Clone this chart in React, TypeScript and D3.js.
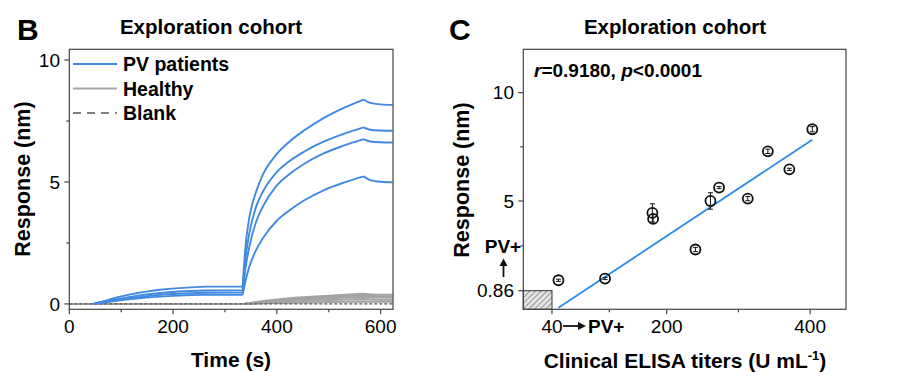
import React from "react";
import * as d3 from "d3";

// ---------- Panel B data (BLI sensorgrams) ----------
const pvTime = [46, 80, 120, 175, 262, 334, 340, 347, 360, 373, 398, 424, 453, 490, 530, 567, 580, 600, 623];
const pv1 = [0, 0.2, 0.4, 0.58, 0.71, 0.71, 2.45, 3.55, 4.6, 5.3, 6.1, 6.65, 7.12, 7.62, 8.05, 8.38, 8.24, 8.18, 8.16];
const pv2 = [0, 0.15, 0.3, 0.45, 0.55, 0.56, 1.94, 2.9, 3.99, 4.6, 5.36, 5.85, 6.25, 6.65, 6.98, 7.24, 7.14, 7.11, 7.1];
const pv3 = [0, 0.12, 0.25, 0.37, 0.46, 0.47, 1.53, 2.35, 3.37, 3.99, 4.81, 5.32, 5.75, 6.17, 6.5, 6.76, 6.66, 6.63, 6.62];
const pv4 = [0, 0.1, 0.2, 0.3, 0.37, 0.37, 0.98, 1.53, 2.21, 2.69, 3.37, 3.83, 4.25, 4.66, 4.98, 5.23, 5.08, 5.01, 4.99];
const pvSeries = [pv1, pv2, pv3, pv4];
const phaseBreaks = [262, 334, 567];

const hTime = [0, 335, 360, 400, 450, 500, 567, 585, 623];
const h1 = [0, 0, 0.08, 0.18, 0.27, 0.34, 0.42, 0.39, 0.38];
const h2 = [0, 0, 0.06, 0.15, 0.23, 0.29, 0.36, 0.33, 0.32];
const h3 = [0, 0, 0.05, 0.12, 0.18, 0.23, 0.29, 0.27, 0.26];
const h4 = [0, 0, 0.03, 0.08, 0.12, 0.16, 0.2, 0.18, 0.17];
const h5 = [0, 0, 0.02, 0.04, 0.06, 0.08, 0.1, 0.09, 0.09];
const healthySeries = [h1, h2, h3, h4, h5];

const blankTime = [0, 623];
const blankValues = [0.0, 0.0];

const bXTicks = [0, 200, 400, 600];
const bXMinor = [100, 300, 500];
const bYTicks = [0, 5, 10];
const bYMinor = [2.5, 7.5];
const legendLabels = ["PV patients", "Healthy", "Blank"];

// ---------- Panel C data (correlation) ----------
const titers = [49, 114, 180, 181, 240, 261, 273, 313, 341, 371, 403];
const responses = [1.34, 1.42, 4.45, 4.17, 2.76, 5.0, 5.62, 5.11, 7.29, 6.46, 8.31];
const respErr = [0.05, 0.05, 0.42, 0.2, 0.1, 0.38, 0.05, 0.1, 0.1, 0.05, 0.12];
const fitSlope = 0.0219;
const fitIntercept = -1.0;
const cXTicks = [40, 200, 400];
const cXMinor = [120, 300];
const cYTicks = [0.86, 5, 10];
const cYMinor = [2.93, 7.5];
const cutoffTiter = 40;
const cutoffResponse = 0.86;

const FONT = "Arial, 'Liberation Sans', Helvetica, sans-serif";
const BLUE = "#4189e0";
const FIT_BLUE = "#2a8be8";
const GRAY = "#a3a3a3";
const FRAME = "#444";

export default function App() {
  // Panel B scales
  const bx = d3.scaleLinear().domain([0, 623.8]).range([69.3, 393]);
  const by = d3.scaleLinear().domain([-0.22, 10.44]).range([309.3, 49.3]);
  // Panel C scales
  const cx = d3.scaleLinear().domain([0, 450]).range([523.3, 846]);
  const cy = d3.scaleLinear().domain([0, 12]).range([309.3, 49.3]);

  const gen = d3
    .line<[number, number]>()
    .x((d) => bx(d[0]))
    .y((d) => by(d[1]))
    .curve(d3.curveMonotoneX);

  // draw a sensorgram, smooth within each phase, with corners at phase switches
  const lineB = (ts: number[], vs: number[], breaks: number[] = []) => {
    const pts: [number, number][] = ts.map((t, i) => [t, vs[i]]);
    const segs: [number, number][][] = [];
    let cur: [number, number][] = [];
    pts.forEach((p) => {
      cur.push(p);
      if (breaks.includes(p[0])) {
        segs.push(cur);
        cur = [p];
      }
    });
    if (cur.length > 1) segs.push(cur);
    return segs.map((s) => gen(s)).join("");
  };

  const [bx0, bx1] = bx.range();
  const [by0, by1] = by.range();
  const [cx0, cx1] = cx.range();
  const [cy0, cy1] = cy.range();

  const fitX = d3.extent(titers) as [number, number];
  const fitLine = d3
    .line<number>()
    .x((t) => cx(t))
    .y((t) => cy(fitIntercept + fitSlope * t))(fitX) as string;

  return (
    <svg
      width={919}
      height={376}
      style={{ position: "absolute", left: 0, top: 0, background: "#fff" }}
      fontFamily={FONT}
    >
      <defs>
        <pattern id="hatch" patternUnits="userSpaceOnUse" width={4} height={4} patternTransform="rotate(45)">
          <rect width={4} height={4} fill="#e4e4e4" />
          <line x1={0} y1={0} x2={0} y2={4} stroke="#555" strokeWidth={1.1} />
        </pattern>
        <clipPath id="clipB">
          <rect x={bx0} y={by1} width={bx1 - bx0} height={by0 - by1} />
        </clipPath>
      </defs>

      {/* ================= Panel B ================= */}
      <text x={17} y={40} fontSize={30} fontWeight="bold">B</text>
      <text x={211} y={34} fontSize={20.5} fontWeight="bold" textAnchor="middle">Exploration cohort</text>

      <g clipPath="url(#clipB)">
        {healthySeries.map((s, i) => (
          <path key={"h" + i} d={lineB(hTime, s, [567])} fill="none" stroke={GRAY} strokeWidth={2} />
        ))}
        <path d={lineB(blankTime, blankValues)} fill="none" stroke="#555" strokeWidth={1.3} strokeDasharray="3,2" />
        {pvSeries.map((s, i) => (
          <path
            key={"pv" + i}
            d={lineB(pvTime, s, phaseBreaks)}
            fill="none"
            stroke={BLUE}
            strokeWidth={1.9}
            strokeLinejoin="round"
          />
        ))}
      </g>

      <rect x={bx0} y={by1} width={bx1 - bx0} height={by0 - by1} fill="none" stroke={FRAME} strokeWidth={1.2} />

      {bXTicks.map((t) => (
        <g key={"bxt" + t}>
          <line x1={bx(t)} x2={bx(t)} y1={by0} y2={by0 + 5} stroke={FRAME} strokeWidth={1.2} />
          <text x={bx(t)} y={333} fontSize={19} textAnchor="middle">{t}</text>
        </g>
      ))}
      {bXMinor.map((t) => (
        <line key={"bxm" + t} x1={bx(t)} x2={bx(t)} y1={by0} y2={by0 + 3} stroke={FRAME} strokeWidth={1.2} />
      ))}
      {bYTicks.map((v) => (
        <g key={"byt" + v}>
          <line x1={bx0} x2={bx0 - 5} y1={by(v)} y2={by(v)} stroke={FRAME} strokeWidth={1.2} />
          <text x={60} y={by(v)} dy="0.35em" fontSize={19} textAnchor="end">{v}</text>
        </g>
      ))}
      {bYMinor.map((v) => (
        <line key={"bym" + v} x1={bx0} x2={bx0 - 3} y1={by(v)} y2={by(v)} stroke={FRAME} strokeWidth={1.2} />
      ))}

      <text x={231} y={366.5} fontSize={21} fontWeight="bold" textAnchor="middle">Time (s)</text>
      <text transform="translate(30,179) rotate(-90)" fontSize={21.5} fontWeight="bold" textAnchor="middle">
        Response (nm)
      </text>

      {/* legend */}
      {legendLabels.map((lab, i) => {
        const y = 64 + i * 24.5;
        return (
          <g key={lab}>
            <line
              x1={73}
              x2={117}
              y1={y}
              y2={y}
              stroke={i === 0 ? BLUE : i === 1 ? GRAY : "#555"}
              strokeWidth={i === 2 ? 1.5 : 2}
              strokeDasharray={i === 2 ? "8,6" : undefined}
            />
            <text x={123} y={y + 7} fontSize={19.5} fontWeight="bold">{lab}</text>
          </g>
        );
      })}

      {/* ================= Panel C ================= */}
      <text x={449} y={40} fontSize={30} fontWeight="bold">C</text>
      <text x={675} y={34} fontSize={20.5} fontWeight="bold" textAnchor="middle">Exploration cohort</text>

      <rect
        x={cx(0)}
        y={cy(cutoffResponse)}
        width={cx(cutoffTiter) - cx(0)}
        height={cy(0) - cy(cutoffResponse)}
        fill="url(#hatch)"
        stroke={FRAME}
        strokeWidth={1.1}
      />

      <path d={fitLine} fill="none" stroke={FIT_BLUE} strokeWidth={1.8} />

      {titers.map((t, i) => {
        const x = cx(t);
        const yv = responses[i];
        const yTop = cy(yv + respErr[i]);
        const yBot = cy(yv - respErr[i]);
        return (
          <g key={"pt" + i} stroke="#111" fill="none">
            <line x1={x} x2={x} y1={yTop} y2={yBot} strokeWidth={1} />
            <line x1={x - 2.5} x2={x + 2.5} y1={yTop} y2={yTop} strokeWidth={1} />
            <line x1={x - 2.5} x2={x + 2.5} y1={yBot} y2={yBot} strokeWidth={1} />
            <circle cx={x} cy={cy(yv)} r={5} strokeWidth={1.8} />
          </g>
        );
      })}

      <rect x={cx0} y={cy1} width={cx1 - cx0} height={cy0 - cy1} fill="none" stroke={FRAME} strokeWidth={1.2} />

      {cXTicks.map((t) => (
        <g key={"cxt" + t}>
          <line x1={cx(t)} x2={cx(t)} y1={cy0} y2={cy0 + 5} stroke={FRAME} strokeWidth={1.2} />
          <text x={cx(t)} y={333} fontSize={19} textAnchor="middle">{t}</text>
        </g>
      ))}
      {cXMinor.map((t) => (
        <line key={"cxm" + t} x1={cx(t)} x2={cx(t)} y1={cy0} y2={cy0 + 3} stroke={FRAME} strokeWidth={1.2} />
      ))}
      {cYTicks.map((v) => (
        <g key={"cyt" + v}>
          <line x1={cx0} x2={cx0 - 5} y1={cy(v)} y2={cy(v)} stroke={FRAME} strokeWidth={1.2} />
          <text x={514} y={cy(v)} dy="0.35em" fontSize={19} textAnchor="end">{v}</text>
        </g>
      ))}
      {cYMinor.map((v) => (
        <line key={"cym" + v} x1={cx0} x2={cx0 - 3} y1={cy(v)} y2={cy(v)} stroke={FRAME} strokeWidth={1.2} />
      ))}

      {/* cutoff annotations */}
      <text x={503} y={253} fontSize={19} fontWeight="bold" textAnchor="middle">PV+</text>
      <line x1={503.5} x2={503.5} y1={277} y2={265} stroke="#111" strokeWidth={1.8} />
      <path d="M499.5,266 L503.5,258.5 L507.5,266 Z" fill="#111" />
      <line x1={563} x2={579} y1={326} y2={326} stroke="#111" strokeWidth={1.8} />
      <path d="M578,322 L586,326 L578,330 Z" fill="#111" />
      <text x={588} y={333} fontSize={19} fontWeight="bold">PV+</text>

      <text x={534} y={77} fontSize={19} fontWeight="bold">
        <tspan fontStyle="italic">r</tspan>
        <tspan>=0.9180, </tspan>
        <tspan fontStyle="italic">p</tspan>
        <tspan>&lt;0.0001</tspan>
      </text>

      <text x={685} y={368} fontSize={21} fontWeight="bold" textAnchor="middle">
        Clinical ELISA titers (U mL
        <tspan dy={-8} fontSize={13}>-1</tspan>
        <tspan dy={8}>)</tspan>
      </text>
      <text transform="translate(469,180) rotate(-90)" fontSize={21.5} fontWeight="bold" textAnchor="middle">
        Response (nm)
      </text>
    </svg>
  );
}
